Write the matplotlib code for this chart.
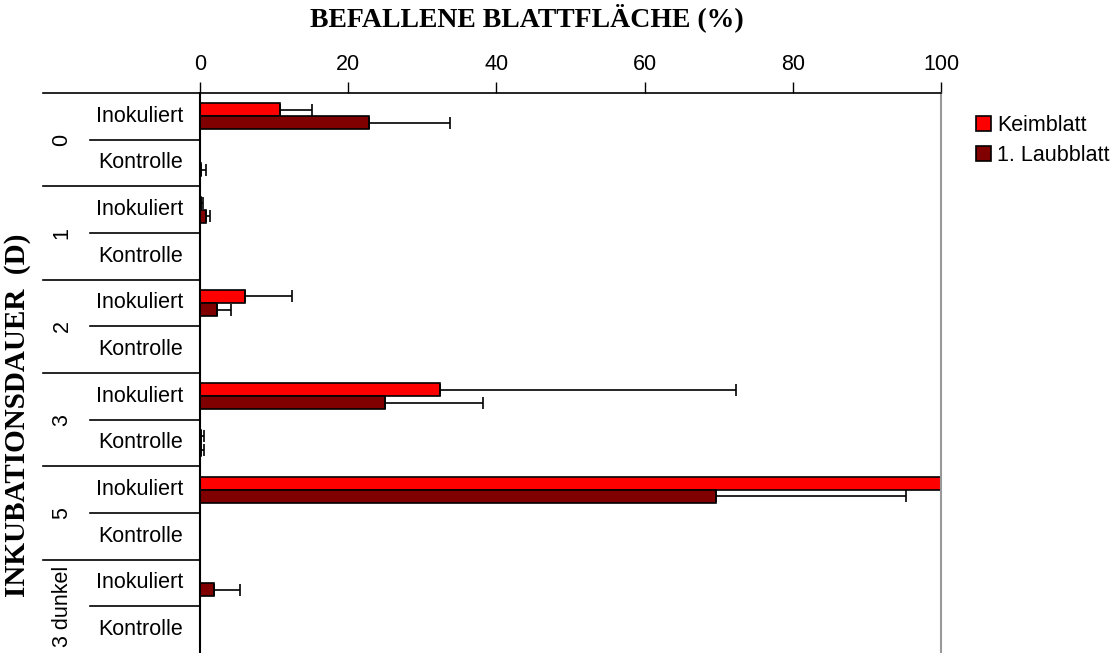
import matplotlib
import numpy as np
from matplotlib import pyplot as plt
from matplotlib.lines import Line2D

matplotlib.use("Agg")

# data (top to bottom)
groups = ["0", "1", "2", "3", "5", "3 dunkel"]
treatments = ["Inokuliert", "Kontrolle"]
keimblatt = [10.8, 0.0, 0.1, 0.0, 6.1, 0.0, 32.4, 0.2, 100.0, 0.0, 0.0, 0.0]
keimblatt_err = [4.3, 0.0, 0.35, 0.0, 6.3, 0.0, 40.0, 0.3, 0.0, 0.0, 0.0, 0.0]
laubblatt = [22.8, 0.1, 0.8, 0.0, 2.3, 0.0, 24.9, 0.2, 69.7, 0.0, 1.9, 0.0]
laubblatt_err = [11.0, 0.7, 0.6, 0.0, 1.9, 0.0, 13.3, 0.3, 25.6, 0.0, 3.5, 0.0]
series_names = ["Keimblatt", "1. Laubblatt"]
colors = ["#FF0000", "#800000"]

sans = "Liberation Sans"
serif = "Liberation Serif"

fig = plt.figure(figsize=(11.15, 6.53), dpi=100)
W, H = 1115, 653
x0, x1, ytop = 200, 941, 93
ax = fig.add_axes([x0 / W, 0, (x1 - x0) / W, 1 - ytop / H])

n = len(keimblatt)
y = np.arange(n)
bh = 0.28
err_kw = dict(ecolor="black", elinewidth=1.2, capsize=4.5, capthick=1.2)
ax.barh(y - bh / 2, keimblatt, height=bh, color=colors[0], edgecolor="black",
        linewidth=1.2, xerr=[np.zeros(n), keimblatt_err], error_kw=err_kw,
        label=series_names[0])
ax.barh(y + bh / 2, laubblatt, height=bh, color=colors[1], edgecolor="black",
        linewidth=1.2, xerr=[np.zeros(n), laubblatt_err], error_kw=err_kw,
        label=series_names[1])

ax.set_xlim(0, 100)
ax.set_ylim(n - 0.5, -0.5)
ax.xaxis.tick_top()
ax.set_xticks([0, 20, 40, 60, 80, 100])
ax.tick_params(axis="x", direction="out", length=8, width=1, pad=5,
               labelsize=15.5, colors="black")
for lbl in ax.get_xticklabels():
    lbl.set_family(sans)
ax.set_yticks([])
ax.spines["bottom"].set_visible(False)
ax.spines["right"].set_color("#999999")
ax.spines["right"].set_linewidth(1.5)
ax.spines["left"].set_linewidth(1.5)
ax.spines["top"].set_linewidth(1.2)

# multi-level category axis (drawn in figure pixels)
cat_h = (H - ytop) / n


def fy(py):
    return 1 - py / H


for i in range(n):
    yc = ytop + (i + 0.5) * cat_h
    fig.text(183 / W, fy(yc), treatments[i % 2], ha="right", va="center",
             fontsize=15.5, family=sans)
for i in range(n):
    py = ytop + i * cat_h
    left = 43 if i % 2 == 0 else 90
    fig.add_artist(Line2D([left / W, x0 / W], [fy(py), fy(py)],
                          color="black", linewidth=1.2))
for g, name in enumerate(groups):
    yc = ytop + (2 * g + 1) * cat_h
    fig.text(62 / W, fy(yc), name, ha="center", va="center", rotation=90,
             fontsize=15.5, family=sans)

fig.text(527 / W, fy(18), "BEFALLENE BLATTFLÄCHE (%)", ha="center",
         va="center", fontsize=20, fontweight="bold", family=serif)
fig.text(18 / W, fy(415), "INKUBATIONSDAUER  (D)", ha="center", va="center",
         rotation=90, fontsize=21, fontweight="bold", family=serif)

leg = fig.legend(loc="upper left", bbox_to_anchor=(967 / W, fy(106)),
                 frameon=False, prop={"family": sans, "size": 15.5},
                 handlelength=0.7, handleheight=0.7, handletextpad=0.3,
                 labelspacing=0.45, borderaxespad=0)

fig.savefig("out.png", dpi=100)
